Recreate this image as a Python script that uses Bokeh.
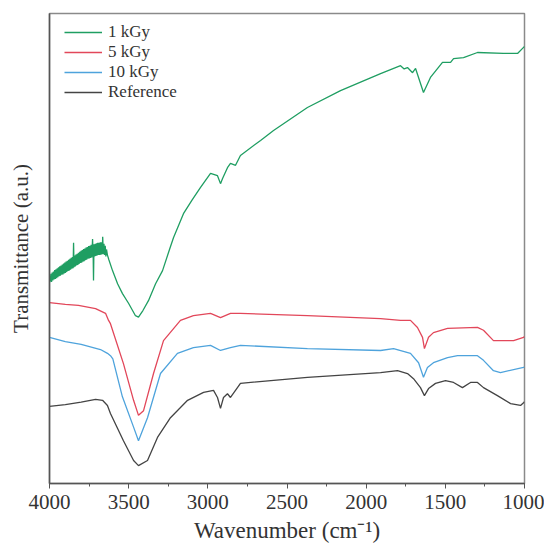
from bokeh.plotting import figure
from bokeh.models import Range1d, SingleIntervalTicker, ColumnDataSource, Legend, LegendItem
from bokeh.embed import file_html
from bokeh.resources import INLINE

# ---- data (wavenumber in cm^-1, transmittance in arbitrary units) ----
wn_1kgy = [4000, 3995, 3991, 3987, 3983, 3979, 3975, 3971, 3967, 3963, 3959, 3955, 3951, 3947,
           3943, 3939, 3935, 3931, 3927, 3923, 3919, 3915, 3911, 3907, 3903, 3899, 3895, 3891,
           3887, 3883, 3879, 3875, 3871, 3867, 3863, 3859, 3855, 3851, 3848, 3845, 3841, 3837,
           3833, 3829, 3825, 3821, 3817, 3813, 3809, 3805, 3801, 3797, 3793, 3789, 3785, 3781,
           3777, 3773, 3769, 3765, 3761, 3757, 3753, 3749, 3745, 3741, 3737, 3733, 3728, 3724,
           3722, 3719, 3715, 3711, 3707, 3703, 3699, 3695, 3691, 3687, 3683, 3679, 3675, 3671,
           3667, 3664, 3660, 3656, 3652, 3648, 3644, 3640, 3634, 3625, 3602, 3570, 3539, 3500,
           3457, 3438, 3410, 3375, 3330, 3286, 3240, 3217, 3154, 3100, 3046, 2983, 2939, 2920,
           2907, 2876, 2857, 2825, 2794, 2667, 2585, 2371, 2162, 1909, 1783, 1760, 1739, 1707,
           1688, 1638, 1594, 1518, 1467, 1448, 1385, 1297, 1133, 1044, 1006, 1000]
t_1kgy = [42.8, 43.2, 44.6, 42.9, 44.9, 43.2, 45.1, 43.4, 45.4, 43.5, 45.6, 43.7, 45.8, 43.9,
          46.0, 44.1, 46.2, 44.2, 46.4, 44.4, 46.6, 44.5, 46.8, 44.7, 47.0, 44.8, 47.2, 45.0,
          47.4, 45.2, 47.6, 45.3, 47.8, 45.5, 48.0, 45.7, 48.2, 45.8, 51.2, 46.0, 48.5, 46.2,
          48.7, 46.4, 48.9, 46.5, 49.1, 46.7, 49.3, 46.9, 49.5, 47.0, 49.7, 47.2, 49.9, 47.3,
          50.0, 47.5, 50.2, 47.6, 50.3, 47.8, 50.5, 47.9, 50.6, 48.0, 50.8, 48.1, 52.0, 48.2,
          43.2, 50.9, 48.3, 51.0, 48.4, 51.1, 48.5, 51.2, 48.6, 51.2, 48.6, 51.3, 48.7, 51.3,
          48.8, 52.5, 48.8, 51.0, 48.6, 50.6, 48.3, 49.8, 48.6, 47.6, 45.3, 42.5, 40.4, 38.3,
          35.7, 35.4, 36.8, 38.9, 42.5, 45.3, 50.0, 52.3, 57.4, 60.3, 63.0, 66.0, 65.5, 63.8,
          64.9, 67.2, 68.1, 67.7, 69.8, 73.0, 75.1, 80.0, 83.6, 87.2, 88.9, 88.2, 88.5, 87.4,
          88.3, 83.2, 86.4, 89.6, 89.6, 90.4, 90.6, 91.7, 91.5, 91.5, 92.8, 93.0]

wn_5kgy = [4000, 3900, 3817, 3709, 3646, 3627, 3615, 3533, 3469, 3438, 3406, 3343, 3280, 3173,
           3091, 2983, 2920, 2857, 2794, 2371, 1909, 1783, 1720, 1676, 1644, 1632, 1606, 1575,
           1486, 1297, 1259, 1196, 1069, 1006, 1000]
t_5kgy = [38.5, 38.1, 37.9, 37.2, 36.2, 34.7, 34.0, 25.5, 17.7, 14.5, 15.5, 23.4, 30.4, 34.7,
          35.7, 36.2, 35.3, 36.2, 36.2, 35.7, 35.1, 34.7, 34.7, 33.2, 31.1, 28.7, 31.1, 32.1,
          33.0, 33.2, 32.6, 30.4, 30.4, 31.1, 31.3]

wn_10kgy = [4000, 3900, 3800, 3678, 3634, 3615, 3600, 3540, 3469, 3438, 3381, 3299, 3192, 3091,
            2983, 2920, 2857, 2794, 2371, 1909, 1827, 1720, 1669, 1638, 1613, 1575, 1486, 1423,
            1297, 1259, 1196, 1152, 1006, 1000]
t_10kgy = [31.1, 30.2, 29.6, 28.5, 27.7, 27.2, 26.5, 18.5, 12.0, 9.1, 14.0, 23.4, 27.7, 28.9,
           29.4, 28.3, 28.9, 29.4, 28.7, 28.3, 28.7, 27.7, 25.7, 22.6, 24.7, 25.7, 26.8, 27.2,
           27.2, 26.2, 24.0, 23.6, 24.7, 24.8]

wn_ref = [4000, 3900, 3800, 3709, 3665, 3634, 3615, 3533, 3469, 3438, 3381, 3318, 3236, 3128,
          3027, 2964, 2939, 2920, 2901, 2876, 2857, 2813, 2794, 2371, 1909, 1802, 1739, 1701,
          1657, 1632, 1606, 1562, 1499, 1448, 1392, 1341, 1297, 1259, 1171, 1088, 1025, 1006, 1000]
t_ref = [16.4, 16.8, 17.3, 17.9, 17.7, 16.6, 14.9, 9.1, 4.9, 3.8, 4.9, 9.8, 14.0, 17.7,
         19.4, 19.8, 18.3, 16.0, 18.3, 19.1, 18.3, 20.4, 21.3, 22.6, 23.6, 24.0, 23.4, 22.3,
         20.4, 18.7, 20.2, 21.3, 21.9, 21.5, 20.4, 21.5, 21.5, 20.4, 18.7, 17.0, 16.6, 17.2, 17.4]

series_names = ["1 kGy", "5 kGy", "10 kGy", "Reference"]
series_colors = ["#1f9e62", "#e2475a", "#4ea3dc", "#444444"]
series_x = [wn_1kgy, wn_5kgy, wn_10kgy, wn_ref]
series_y = [t_1kgy, t_5kgy, t_10kgy, t_ref]

FONT = "Liberation Serif"

p = figure(width=544, height=551, output_backend="svg", toolbar_location=None,
           x_range=Range1d(4000, 1000), y_range=Range1d(0, 100),
           min_border_left=49, min_border_right=20, min_border_top=13, min_border_bottom=68)

items = []
for name, color, xs, ys in zip(series_names, series_colors, series_x, series_y):
    src = ColumnDataSource(dict(x=xs, y=ys))
    r = p.line("x", "y", source=src, line_color=color, line_width=1.3)
    items.append(LegendItem(label=name, renderers=[r]))

legend = Legend(items=items, location=(15, 381), margin=0, padding=8,
                background_fill_alpha=0, border_line_color=None,
                label_text_font=FONT, label_text_font_size="17px", label_text_color="#333333",
                glyph_width=38, glyph_height=18, label_height=18, spacing=0, label_standoff=6)
p.add_layout(legend)

p.grid.visible = False
p.outline_line_color = "#8a8a8a"
p.outline_line_width = 1.5

xa = p.xaxis[0]
xa.ticker = SingleIntervalTicker(interval=500, num_minor_ticks=2)
xa.axis_label = "Wavenumber (cm⁻¹)"
xa.axis_label_text_font = FONT
xa.axis_label_text_font_style = "normal"
xa.axis_label_text_font_size = "23px"
xa.axis_label_text_color = "#333333"
xa.axis_label_standoff = 6
xa.major_label_text_font = FONT
xa.major_label_text_font_size = "21px"
xa.major_label_text_color = "#333333"
xa.major_label_standoff = 6
xa.major_tick_in = 0
xa.major_tick_out = 5
xa.minor_tick_in = 0
xa.minor_tick_out = 3
xa.axis_line_color = "#555555"
xa.major_tick_line_color = "#555555"
xa.minor_tick_line_color = "#555555"
xa.axis_line_width = 1.5

ya = p.yaxis[0]
ya.ticker = []
ya.major_label_text_font_size = "0px"
ya.major_tick_line_color = None
ya.minor_tick_line_color = None
ya.axis_label = "Transmittance (a.u.)"
ya.axis_label_text_font = FONT
ya.axis_label_text_font_style = "normal"
ya.axis_label_text_font_size = "21px"
ya.axis_label_text_color = "#333333"
ya.axis_label_standoff = 17
ya.axis_line_color = "#555555"
ya.axis_line_width = 1.5

open("out.html", "w").write(file_html(p, INLINE))
